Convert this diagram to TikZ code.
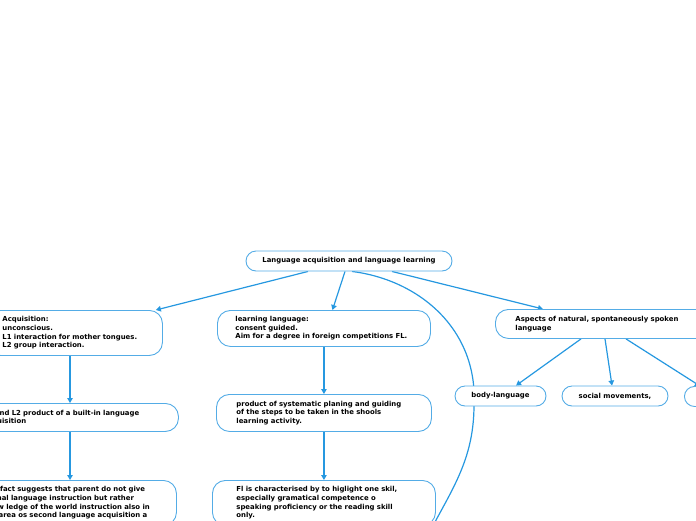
\documentclass[tikz,border=0pt]{standalone}
\usepackage{fontspec}
\newfontfamily\mmfamily{DejaVu Sans}
\usetikzlibrary{arrows.meta, positioning, backgrounds}
\definecolor{linkblue}{RGB}{38,152,224}
\definecolor{boxblue}{RGB}{84,172,230}
\tikzset{
  topic/.style={
    rectangle,
    rounded corners=10pt,
    draw=boxblue,
    line width=0.9pt,
    fill=white,
    align=center,
    minimum height=20pt,
    inner sep=0pt,
    font=\mmfamily\bfseries\fontsize{6.9}{8.6}\selectfont
  },
  box/.style={
    topic,
    rounded corners=13pt,
    align=left,
    anchor=north west
  },
  link/.style={-{Triangle[length=5pt,width=5.5pt]}, draw=linkblue, line width=1.2pt}
}

\begin{document}
\begin{tikzpicture}[x=1pt,y=-1pt]
\useasboundingbox (0,0) rectangle (696,520);

\node[topic, minimum width=206pt] (root) at (349,261) {Language acquisition and language learning};

\node[box, minimum width=175pt, minimum height=45pt, text width=145pt] (acq) at (-13,310) {Acquisition:\\unconscious.\\L1 interaction for mother tongues.\\L2 group interaction.};
\node[box, minimum width=210pt, minimum height=28pt, text width=180pt] (l2) at (-32,403) {L1 and L2 product of a built-in language\\acquisition};
\node[box, minimum width=208pt, minimum height=45pt, text width=178pt] (fact) at (-32,480) {The fact suggests that parent do not give\\formal language instruction but rather\\know ledge of the world instruction also in\\the area os second language acquisition a};

\node[box, minimum width=213pt, minimum height=36pt, text width=177pt] (learn) at (217,310) {learning language:\\consent guided.\\Aim for a degree in foreign competitions FL.};
\node[box, minimum width=215pt, minimum height=37pt, text width=175pt] (learn2) at (216,394) {product of systematic planing and guiding\\of the steps to be taken in the shools\\learning activity.};
\node[box, minimum width=223pt, minimum height=45pt, text width=175pt] (fl) at (212,480) {Fl is characterised by to higlight one skil,\\especially gramatical competence o\\speaking proficiency or the reading skill\\only.};

\node[box, minimum width=240pt, minimum height=29pt, text width=200pt] (aspects) at (495,309) {Aspects of natural, spontaneously spoken\\language};
\node[topic, minimum width=91pt] (body) at (500.5,396) {body-language};
\node[topic, minimum width=106pt] (social) at (615,396) {social movements,};
\node[topic, minimum width=100pt, anchor=north west] (third) at (684,386) {};

\coordinate (col) at (70,0);
\coordinate (bend) at (474,405);
\coordinate (below) at (420,552);

\begin{scope}[on background layer]
\draw[link] ([xshift=-41pt]root.south) -- ([xshift=-7pt]acq.north east);
\draw[link] ([xshift=-4pt]root.south) -- ([xshift=8.5pt]learn.north);
\draw[link] ([xshift=43pt]root.south) -- ([xshift=48pt]aspects.north west);
\draw[link] ([xshift=3pt]root.south) .. controls (420,280) and (478,330) .. (bend) to[out=-90,in=65] (below);
\draw[link] (acq.south -| col) -- (l2.north -| col);
\draw[link] (l2.south -| col) -- (fact.north -| col);
\draw[link] (learn.south) -- (learn2.north);
\draw[link] (learn2.south) -- (fl.north);
\draw[link] ([xshift=86pt]aspects.south west) -- ([xshift=15.5pt]body.north);
\draw[link] ([xshift=110pt]aspects.south west) -- ([xshift=-3pt]social.north);
\draw[link] ([xshift=131pt]aspects.south west) -- ([xshift=16pt]third.north west);
\end{scope}
\end{tikzpicture}
\end{document}
